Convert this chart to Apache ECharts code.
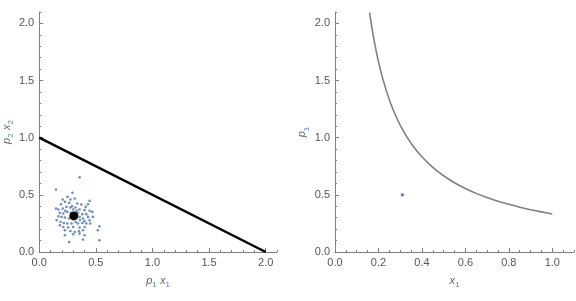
<!DOCTYPE html>
<html>
<head>
<meta charset="utf-8">
<script src="https://cdn.jsdelivr.net/npm/echarts@6/dist/echarts.min.js"></script>
<style>html,body{margin:0;padding:0;background:#fff}#c{width:576px;height:301px}</style>
</head>
<body>
<div id="c"></div>
<script>
// ---- data ----
var budgetLine = [[0, 1], [2, 0]];
var cloudX = [0.357,0.148,0.294,0.250,0.207,0.276,0.314,0.227,0.192,0.265,0.337,0.372,0.445,0.431,0.410,0.148,0.169,0.207,0.241,0.276,0.300,0.357,0.401,0.445,0.468,0.183,0.213,0.248,0.279,0.343,0.381,0.416,0.431,0.474,0.169,0.198,0.227,0.265,0.357,0.387,0.445,0.154,0.189,0.218,0.248,0.285,0.323,0.343,0.381,0.416,0.451,0.183,0.213,0.256,0.300,0.357,0.401,0.532,0.227,0.276,0.314,0.352,0.387,0.518,0.227,0.300,0.357,0.401,0.265,0.387,0.532,0.33,0.29,0.36,0.23,0.32,0.40];
var cloudY = [0.653,0.547,0.518,0.482,0.460,0.460,0.468,0.439,0.418,0.430,0.424,0.416,0.447,0.418,0.395,0.381,0.372,0.381,0.395,0.389,0.372,0.372,0.366,0.360,0.351,0.342,0.337,0.351,0.342,0.342,0.331,0.331,0.307,0.307,0.313,0.307,0.302,0.293,0.307,0.293,0.278,0.278,0.263,0.254,0.249,0.249,0.263,0.249,0.254,0.249,0.249,0.234,0.219,0.214,0.219,0.214,0.219,0.225,0.190,0.184,0.175,0.182,0.190,0.190,0.146,0.155,0.161,0.146,0.088,0.109,0.103,0.36,0.40,0.28,0.36,0.39,0.27];
var meanPoint = [0.306, 0.316];
var curveX = [0.159,0.17,0.18,0.19,0.2,0.22,0.25,0.28,0.3,0.33,0.36,0.4,0.45,0.5,0.55,0.6,0.65,0.7,0.75,0.8,0.85,0.9,0.95,1.0];
var curveY = [2.096,1.961,1.852,1.754,1.667,1.515,1.333,1.190,1.111,1.010,0.926,0.833,0.741,0.667,0.606,0.556,0.513,0.476,0.444,0.417,0.392,0.370,0.351,0.333];
var rightPoint = [0.31, 0.5];
var leftXTicks = [0, 0.5, 1, 1.5, 2];
var leftYTicks = [0, 0.5, 1, 1.5, 2];
var rightXTicks = [0, 0.2, 0.4, 0.6, 0.8, 1.0];
var rightYTicks = [0, 0.5, 1, 1.5, 2];

var cloud = cloudX.map(function (x, i) { return [x, cloudY[i]]; });
var curve = curveX.map(function (x, i) { return [x, curveY[i]]; });

var AX = '#808080', TXT = '#555', BLUE = '#5E81B5';
var FONT = 'Liberation Sans';

function minorAxis(grid, max, step, pos) {
  return {
    type: 'value', gridIndex: grid, position: pos, min: 0, max: max, interval: step,
    axisLine: { show: false, onZero: false },
    axisTick: { show: true, inside: true, length: 2, lineStyle: { color: AX } },
    axisLabel: { show: false }, splitLine: { show: false }
  };
}
function majorAxis(grid, max, step, ticks, pos, extra) {
  var a = {
    type: 'value', gridIndex: grid, position: pos, min: 0, max: max, interval: step,
    axisLine: { show: true, onZero: false, lineStyle: { color: AX, width: 1 } },
    axisTick: { show: true, inside: true, length: 4, customValues: ticks, lineStyle: { color: AX } },
    axisLabel: { show: true, customValues: ticks, color: TXT, fontFamily: FONT, fontSize: 11, margin: 5,
      formatter: function (v) { return v.toFixed(1); } },
    splitLine: { show: false },
    nameLocation: 'middle',
    nameTextStyle: {
      fontFamily: FONT,
      rich: {
        i: { fontStyle: 'italic', fontSize: 11, color: '#666', fontFamily: FONT, verticalAlign: 'top', lineHeight: 14 },
        s: { fontSize: 8, color: BLUE, fontFamily: FONT, verticalAlign: 'bottom', lineHeight: 14, padding: [6, 0, 0, 0] }
      }
    }
  };
  for (var k in extra) a[k] = extra[k];
  return a;
}

var chart = echarts.init(document.getElementById('c'), null, { renderer: 'canvas' });
chart.setOption({
  animation: false,
  backgroundColor: '#fff',
  grid: [
    { left: 37, top: 12, width: 240, height: 240, containLabel: false },
    { left: 335, top: 12, width: 239, height: 240, containLabel: false }
  ],
  xAxis: [
    majorAxis(0, 2.1, 0.5, leftXTicks, 'bottom', { name: '{i|p}{s|1} {i|x}{s|1}', nameGap: 23 }),
    minorAxis(0, 2.1, 0.1, 'bottom'),
    majorAxis(1, 1.1, 0.2, rightXTicks, 'bottom', { name: '{i|x}{s|1}', nameGap: 23 }),
    minorAxis(1, 1.1, 0.05, 'bottom')
  ],
  yAxis: [
    majorAxis(0, 2.1, 0.5, leftYTicks, 'left', { name: '{i|p}{s|2} {i|x}{s|2}', nameGap: 22 }),
    minorAxis(0, 2.1, 0.1, 'left'),
    majorAxis(1, 2.1, 0.5, rightYTicks, 'left', { name: '{i|p}{s|1}', nameGap: 22 }),
    minorAxis(1, 2.1, 0.1, 'left')
  ],
  series: [
    { type: 'line', xAxisIndex: 0, yAxisIndex: 0, data: budgetLine, showSymbol: false,
      lineStyle: { color: '#000', width: 2.5 }, z: 3 },
    { type: 'scatter', xAxisIndex: 0, yAxisIndex: 0, data: cloud, symbol: 'circle', symbolSize: 2.6,
      itemStyle: { color: BLUE, opacity: 0.9 }, z: 2 },
    { type: 'scatter', xAxisIndex: 0, yAxisIndex: 0, data: [meanPoint], symbol: 'circle', symbolSize: 9,
      itemStyle: { color: '#000', opacity: 1 }, z: 4 },
    { type: 'line', xAxisIndex: 2, yAxisIndex: 2, data: curve, smooth: 0.3, showSymbol: false,
      lineStyle: { color: '#808080', width: 1.6 } },
    { type: 'scatter', xAxisIndex: 2, yAxisIndex: 2, data: [rightPoint], symbol: 'rect', symbolSize: 3,
      itemStyle: { color: BLUE, opacity: 1 } }
  ]
});
</script>
</body>
</html>
